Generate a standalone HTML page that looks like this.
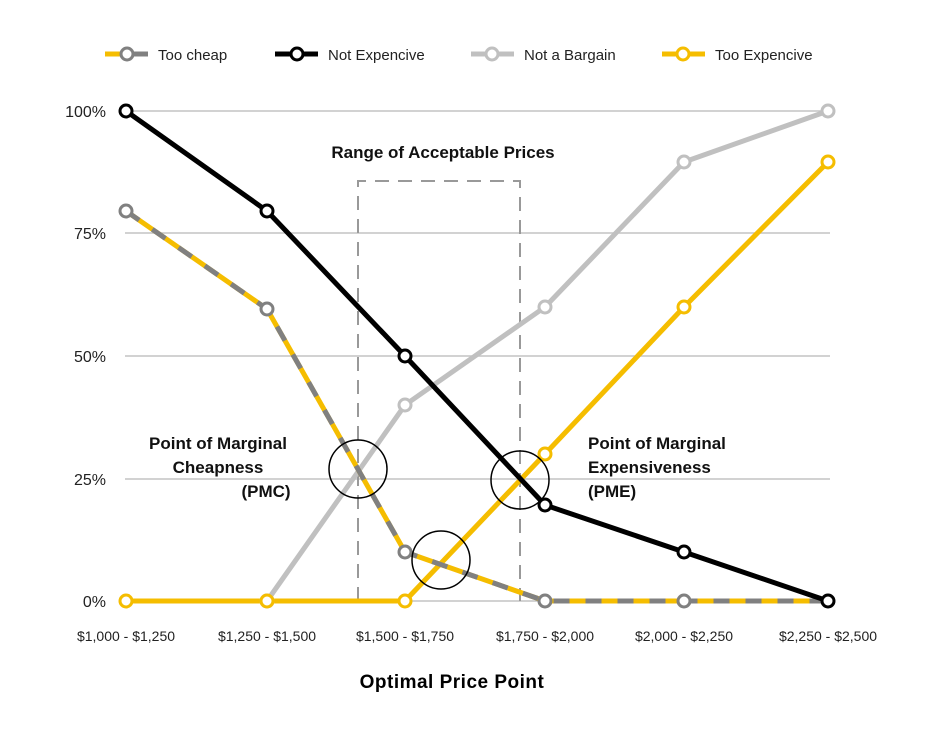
<!DOCTYPE html>
<html><head><meta charset="utf-8"><style>
body{margin:0;background:#fff;}
svg text{font-family:"Liberation Sans",sans-serif;}
</style></head><body>
<svg width="940" height="740" viewBox="0 0 940 740" xmlns="http://www.w3.org/2000/svg">
<rect width="940" height="740" fill="#fff"/>
<!-- legend -->
<g stroke-width="5" fill="#fff">
<line x1="105" y1="54" x2="120" y2="54" stroke="#f5bd00"/><line x1="120" y1="54" x2="148" y2="54" stroke="#808080"/><circle cx="127" cy="54" r="6" stroke="#808080" stroke-width="3"/>
<line x1="275" y1="54" x2="318" y2="54" stroke="#000"/><circle cx="297" cy="54" r="6" stroke="#000" stroke-width="3"/>
<line x1="471" y1="54" x2="514" y2="54" stroke="#c0c0c0"/><circle cx="492" cy="54" r="6" stroke="#c0c0c0" stroke-width="3"/>
<line x1="662" y1="54" x2="705" y2="54" stroke="#f5bd00"/><circle cx="683" cy="54" r="6" stroke="#f5bd00" stroke-width="3"/>
</g>
<g font-size="15" fill="#222">
<text x="158" y="60">Too cheap</text>
<text x="328" y="60">Not Expencive</text>
<text x="524" y="60">Not a Bargain</text>
<text x="715" y="60">Too Expencive</text>
</g>
<!-- grid -->
<g stroke="#c4c4c4" stroke-width="1.5">
<line x1="125" y1="111" x2="830" y2="111"/><line x1="125" y1="233" x2="830" y2="233"/><line x1="125" y1="356" x2="830" y2="356"/><line x1="125" y1="479" x2="830" y2="479"/><line x1="125" y1="601" x2="830" y2="601"/>
</g>
<g font-size="16" fill="#222" text-anchor="end">
<text x="106" y="117">100%</text><text x="106" y="239">75%</text><text x="106" y="362">50%</text><text x="106" y="485">25%</text><text x="106" y="607">0%</text>
</g>
<g font-size="14" fill="#222" text-anchor="middle">
<text x="126" y="641">$1,000 - $1,250</text><text x="267" y="641">$1,250 - $1,500</text><text x="405" y="641">$1,500 - $1,750</text><text x="545" y="641">$1,750 - $2,000</text><text x="684" y="641">$2,000 - $2,250</text><text x="828" y="641">$2,250 - $2,500</text>
</g>
<text x="452" y="688" font-size="19" font-weight="bold" text-anchor="middle" fill="#000" letter-spacing="0.5">Optimal Price Point</text>
<!-- range box -->
<path d="M358 601 V181 H520 V601" fill="none" stroke="#999" stroke-width="2" stroke-dasharray="14,9"/>
<text x="443" y="158" font-size="17" font-weight="bold" text-anchor="middle" fill="#111">Range of Acceptable Prices</text>
<!-- series -->
<g fill="none" stroke-width="5" stroke-linejoin="round">
<polyline points="126,601 267,601 405,405 545,307 684,162 828,111" stroke="#c0c0c0"/>
<polyline points="126,601 267,601 405,601 545,454 684,307 828,162" stroke="#f5bd00"/>
<polyline points="126,211 267,309 405,552 545,601 684,601 828,601" stroke="#f5bd00"/>
<polyline points="126,211 267,309 405,552 545,601 684,601 828,601" stroke="#808080" stroke-dasharray="16,16"/>
<polyline points="126,111 267,211 405,356 545,505 684,552 828,601" stroke="#000"/>
</g>
<g fill="#fff" stroke-width="3">
<g stroke="#c0c0c0"><circle cx="405" cy="405" r="6"/><circle cx="545" cy="307" r="6"/><circle cx="684" cy="162" r="6"/><circle cx="828" cy="111" r="6"/><circle cx="267" cy="601" r="6"/></g>
<g stroke="#f5bd00"><circle cx="126" cy="601" r="6"/><circle cx="267" cy="601" r="6"/><circle cx="405" cy="601" r="6"/><circle cx="545" cy="454" r="6"/><circle cx="684" cy="307" r="6"/><circle cx="828" cy="162" r="6"/></g>
<g stroke="#808080"><circle cx="126" cy="211" r="6"/><circle cx="267" cy="309" r="6"/><circle cx="405" cy="552" r="6"/><circle cx="545" cy="601" r="6"/><circle cx="684" cy="601" r="6"/></g>
<g stroke="#000"><circle cx="126" cy="111" r="6"/><circle cx="267" cy="211" r="6"/><circle cx="405" cy="356" r="6"/><circle cx="545" cy="505" r="6"/><circle cx="684" cy="552" r="6"/><circle cx="828" cy="601" r="6"/></g>
</g>
<!-- circles -->
<g fill="none" stroke="#000" stroke-width="1.5">
<circle cx="358" cy="469" r="29"/><circle cx="441" cy="560" r="29"/><circle cx="520" cy="480" r="29"/>
</g>
<g font-size="17" font-weight="bold" fill="#111">
<text x="218" y="449" text-anchor="middle">Point of Marginal</text>
<text x="218" y="473" text-anchor="middle">Cheapness</text>
<text x="266" y="497" text-anchor="middle">(PMC)</text>
<text x="588" y="449">Point of Marginal</text>
<text x="588" y="473">Expensiveness</text>
<text x="588" y="497">(PME)</text>
</g>
</svg>
</body></html>
